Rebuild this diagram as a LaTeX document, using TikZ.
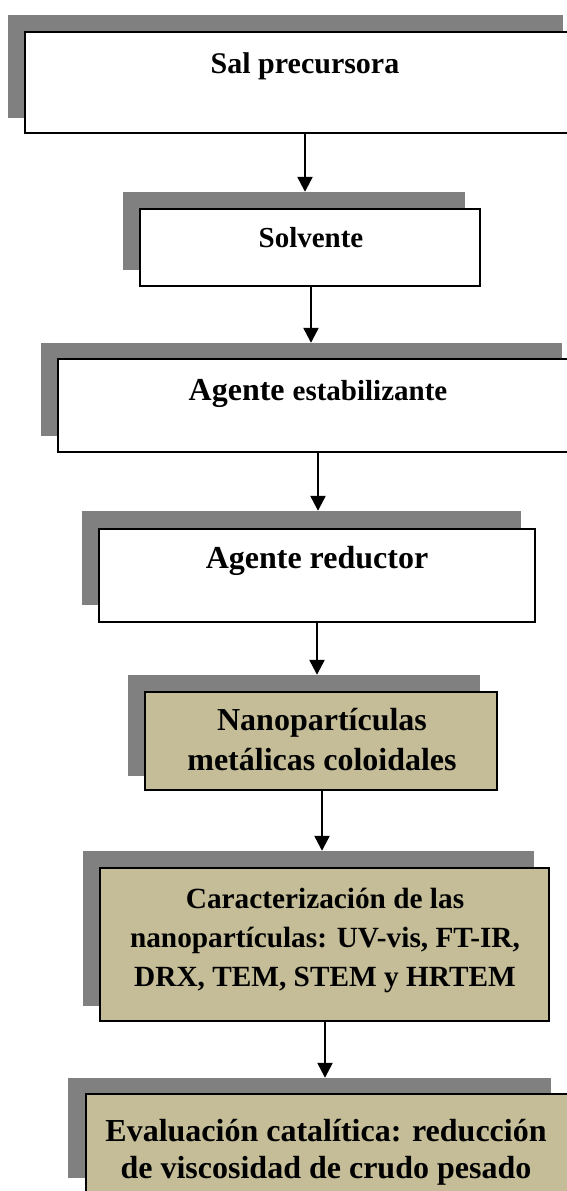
\documentclass[tikz,border=0pt]{standalone}
\usepackage{fontspec}
\setmainfont{Liberation Serif}
\usetikzlibrary{arrows.meta,fit}
\definecolor{gris}{RGB}{128,128,128}
\definecolor{arena}{RGB}{196,189,151}

\begin{document}
\begin{tikzpicture}[x=1pt,y=-1pt,
    sombra/.style={fill=gris,inner sep=0pt},
    caja/.style={draw=black,line width=2.2pt,fill=white,inner sep=0pt},
    cajat/.style={caja,fill=arena},
    texto/.style={font=\bfseries,align=center,anchor=base,inner sep=0pt},
    flecha/.style={-{Triangle[length=15pt,width=15pt]},line width=2.4pt}
   ]
\useasboundingbox (0,0) rectangle (567,1191);
\clip (0,0) rectangle (567,1191);

\node[sombra,fit={(8,15) (563,118)}] (s1) {};
\node[caja,fit={(25,32) (590,133)}] (b1) {};
\node[texto,font=\bfseries\fontsize{30}{34}\selectfont] (t1) at (305,73) {Sal precursora};

\node[sombra,fit={(123,192) (465,270)}] (s2) {};
\node[caja,fit={(140,209) (480,286)}] (b2) {};
\node[texto,font=\bfseries\fontsize{29}{33}\selectfont] (t2) at (311,247) {Solvente};

\node[sombra,fit={(41,343) (562,436)}] (s3) {};
\node[caja,fit={(58,359) (590,452)}] (b3) {};
\node[texto] (t3) at (318,400) {\fontsize{32}{36}\selectfont Agente \fontsize{29}{33}\selectfont estabilizante};

\node[sombra,fit={(82,511) (521,605)}] (s4) {};
\node[caja,fit={(99,529) (535,622)}] (b4) {};
\node[texto,font=\bfseries\fontsize{32}{36}\selectfont] (t4) at (317,568) {Agente reductor};

\node[sombra,fit={(128,675) (480,776)}] (s5) {};
\node[cajat,fit={(145,692) (497,790)}] (b5) {};
\node[texto,font=\bfseries\fontsize{32}{40}\selectfont] (t5) at (322,770) {Nanopartículas\\metálicas coloidales};

\node[sombra,fit={(83,851) (534,1006)}] (s6) {};
\node[cajat,fit={(100,868) (549,1021)}] (b6) {};
\node[texto,font=\bfseries\fontsize{29.3}{39}\selectfont] (t6) at (325,986) {Caracterización de las\\nanopartículas: UV-vis, FT-IR,\\DRX, TEM, STEM y HRTEM};

\node[sombra,fit={(68,1078) (551,1178)}] (s7) {};
\node[cajat,fit={(86,1094) (590,1210)}] (b7) {};
\node[texto,font=\bfseries\fontsize{32}{37}\selectfont] (t7) at (326,1178) {Evaluación catalítica: reducción\\de viscosidad de crudo pesado};

\draw[flecha] (t1 |- b1.south) -- (t1 |- s2.north);
\draw[flecha] (t2 |- b2.south) -- (t2 |- s3.north);
\draw[flecha] (t3 |- b3.south) -- (t3 |- s4.north);
\draw[flecha] (t4 |- b4.south) -- (t4 |- s5.north);
\draw[flecha] (t5 |- b5.south) -- (t5 |- s6.north);
\draw[flecha] (t6 |- b6.south) -- (t6 |- s7.north);
\end{tikzpicture}
\end{document}
